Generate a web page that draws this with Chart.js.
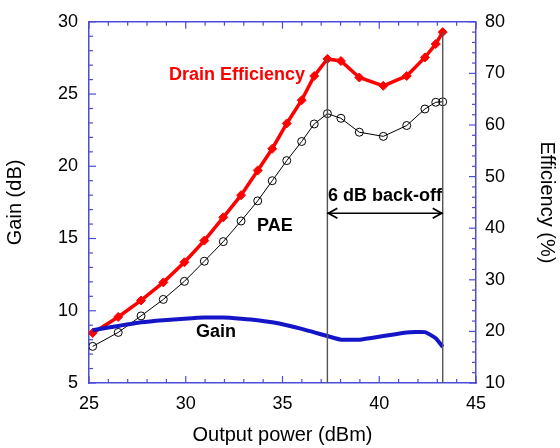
<!DOCTYPE html>
<html><head><meta charset="utf-8">
<script src="https://cdn.jsdelivr.net/npm/chart.js@4/dist/chart.umd.min.js"></script>
<style>html,body{margin:0;padding:0;background:#fff}#wrap{width:560px;height:448px}</style>
</head><body><div id="wrap"><canvas id="c" width="560" height="448"></canvas></div>
<script>
const outputPower = [25.19, 26.51, 27.69, 28.84, 29.93, 30.96, 31.94, 32.86, 33.72, 34.47, 35.22, 35.99, 36.64, 37.32, 38.02, 38.97, 40.21, 41.42, 42.36, 42.92, 43.28];
const drainEff   = [19.7, 22.8, 26.0, 29.5, 33.4, 37.6, 42.1, 46.4, 51.2, 55.4, 60.3, 64.8, 69.5, 72.8, 72.4, 69.2, 67.6, 69.5, 73.1, 75.7, 78.0];
const pae        = [17.1, 19.8, 23.0, 26.2, 29.7, 33.6, 37.4, 41.4, 45.3, 49.2, 53.1, 56.8, 60.2, 62.2, 61.3, 58.6, 57.8, 59.9, 63.1, 64.4, 64.5];
const gain       = [8.65, 8.95, 9.20, 9.35, 9.45, 9.53, 9.53, 9.45, 9.35, 9.20, 9.00, 8.75, 8.50, 8.25, 8.00, 8.00, 8.25, 8.50, 8.52, 8.10, 7.50];
const backoffX   = [37.32, 43.28];
const backoffEff = [72.8, 78.0];
const xTicks = [25, 30, 35, 40, 45];
const gainTicks = [5, 10, 15, 20, 25, 30];
const effTicks = [10, 20, 30, 40, 50, 60, 70, 80];

const AX = '#4c4cd6';
const FONT = '"Liberation Sans", Arial, sans-serif';

const pts = ys => outputPower.map((x, i) => ({x, y: ys[i]}));

const decor = {
  id: 'decor',
  afterDatasetsDraw(chart) {
    const {ctx, chartArea: a, scales} = chart;
    const sx = scales.x, sy = scales.y, se = scales.y2;
    ctx.save();
    ctx.strokeStyle = AX; ctx.lineWidth = 1.5;
    ctx.beginPath(); ctx.moveTo(a.left, a.top); ctx.lineTo(a.right, a.top); ctx.stroke();
    ctx.lineWidth = 1.2;
    for (let v = xTicks[0]; v <= xTicks[xTicks.length - 1]; v += 1) {
      const p = sx.getPixelForValue(v);
      const L = (v % 5 === 0) ? 7 : 4;
      ctx.beginPath();
      ctx.moveTo(p, a.bottom); ctx.lineTo(p, a.bottom - L);
      ctx.moveTo(p, a.top); ctx.lineTo(p, a.top + L);
      ctx.stroke();
    }
    for (let v = gainTicks[0]; v <= gainTicks[gainTicks.length - 1]; v += 1) {
      const p = sy.getPixelForValue(v);
      const L = (v % 5 === 0) ? 7 : 4;
      ctx.beginPath(); ctx.moveTo(a.left, p); ctx.lineTo(a.left + L, p); ctx.stroke();
    }
    for (let v = effTicks[0]; v <= effTicks[effTicks.length - 1]; v += 2) {
      const p = se.getPixelForValue(v);
      const L = (v % 10 === 0) ? 7 : 4;
      ctx.beginPath(); ctx.moveTo(a.right, p); ctx.lineTo(a.right - L, p); ctx.stroke();
    }
    ctx.strokeStyle = '#555'; ctx.lineWidth = 1.4;
    const bx = backoffX.map(v => sx.getPixelForValue(v));
    bx.forEach((p, i) => {
      ctx.beginPath(); ctx.moveTo(p, se.getPixelForValue(backoffEff[i])); ctx.lineTo(p, a.bottom); ctx.stroke();
    });
    const ay = se.getPixelForValue(42.9);
    ctx.strokeStyle = '#000'; ctx.lineWidth = 1.3;
    ctx.beginPath(); ctx.moveTo(bx[0], ay); ctx.lineTo(bx[1], ay); ctx.stroke();
    ctx.lineWidth = 1.8;
    ctx.beginPath();
    ctx.moveTo(bx[0] + 10, ay - 5); ctx.lineTo(bx[0] + 1, ay); ctx.lineTo(bx[0] + 10, ay + 5);
    ctx.moveTo(bx[1] - 10, ay - 5); ctx.lineTo(bx[1] - 1, ay); ctx.lineTo(bx[1] - 10, ay + 5);
    ctx.stroke();
    ctx.textAlign = 'center'; ctx.textBaseline = 'middle';
    ctx.font = 'bold 18px ' + FONT;
    ctx.fillStyle = '#ff0000';
    ctx.fillText('Drain Efficiency', sx.getPixelForValue(32.65), se.getPixelForValue(69.6));
    ctx.fillStyle = '#000';
    ctx.fillText('PAE', sx.getPixelForValue(34.61), se.getPixelForValue(40.4));
    ctx.fillText('Gain', sx.getPixelForValue(31.56), se.getPixelForValue(19.8));
    ctx.fillText('6 dB back-off', (bx[0] + bx[1]) / 2, se.getPixelForValue(46.2));
    ctx.restore();
  }
};

new Chart(document.getElementById('c'), {
  type: 'line',
  data: {
    datasets: [
      {label: 'Gain', data: pts(gain), yAxisID: 'y', borderColor: '#1515c8', borderWidth: 4, pointRadius: 0, tension: 0.15, fill: false},
      {label: 'PAE', data: pts(pae), yAxisID: 'y2', borderColor: '#000', borderWidth: 1, pointStyle: 'circle', pointRadius: 4, pointBorderWidth: 1, pointBackgroundColor: 'rgba(0,0,0,0)', pointBorderColor: '#000', fill: false},
      {label: 'Drain Efficiency', data: pts(drainEff), yAxisID: 'y2', borderColor: '#ff0000', borderWidth: 3.5, pointStyle: 'rectRot', pointRadius: 4.5, pointBorderWidth: 1, pointBackgroundColor: '#ff0000', pointBorderColor: '#ff0000', fill: false}
    ]
  },
  options: {
    responsive: false, animation: false, devicePixelRatio: 1,
    layout: {padding: {top: 19, left: 0, right: 0, bottom: 0}},
    plugins: {legend: {display: false}, tooltip: {enabled: false}},
    scales: {
      x: {
        type: 'linear', position: 'bottom', min: 25, max: 45,
        afterBuildTicks: s => { s.ticks = xTicks.map(v => ({value: v})); },
        afterFit: s => { s.height = 65; },
        grid: {display: false, drawTicks: false},
        border: {display: true, color: AX, width: 1.5},
        ticks: {color: '#000', font: {family: FONT, size: 18}, padding: 10, maxRotation: 0},
        title: {display: true, text: 'Output power (dBm)', color: '#000', font: {family: FONT, size: 20}, padding: {top: 4, bottom: 1}}
      },
      y: {
        type: 'linear', position: 'left', min: 5, max: 30,
        afterBuildTicks: s => { s.ticks = gainTicks.map(v => ({value: v})); },
        afterFit: s => { s.width = 89; },
        grid: {display: false, drawTicks: false},
        border: {display: true, color: AX, width: 1.5},
        ticks: {color: '#000', font: {family: FONT, size: 18}, padding: 11},
        title: {display: true, text: 'Gain (dB)', color: '#000', font: {family: FONT, size: 20}, padding: {top: 3, bottom: 0}}
      },
      y2: {
        type: 'linear', position: 'right', min: 10, max: 80,
        afterBuildTicks: s => { s.ticks = effTicks.map(v => ({value: v})); },
        afterFit: s => { s.width = 84; },
        grid: {display: false, drawTicks: false},
        border: {display: true, color: AX, width: 1.5},
        ticks: {color: '#000', font: {family: FONT, size: 18}, padding: 9},
        title: {display: true, text: 'Efficiency (%)', color: '#000', font: {family: FONT, size: 20}, padding: {top: 1, bottom: 0}}
      }
    }
  },
  plugins: [decor]
});
</script></body></html>
